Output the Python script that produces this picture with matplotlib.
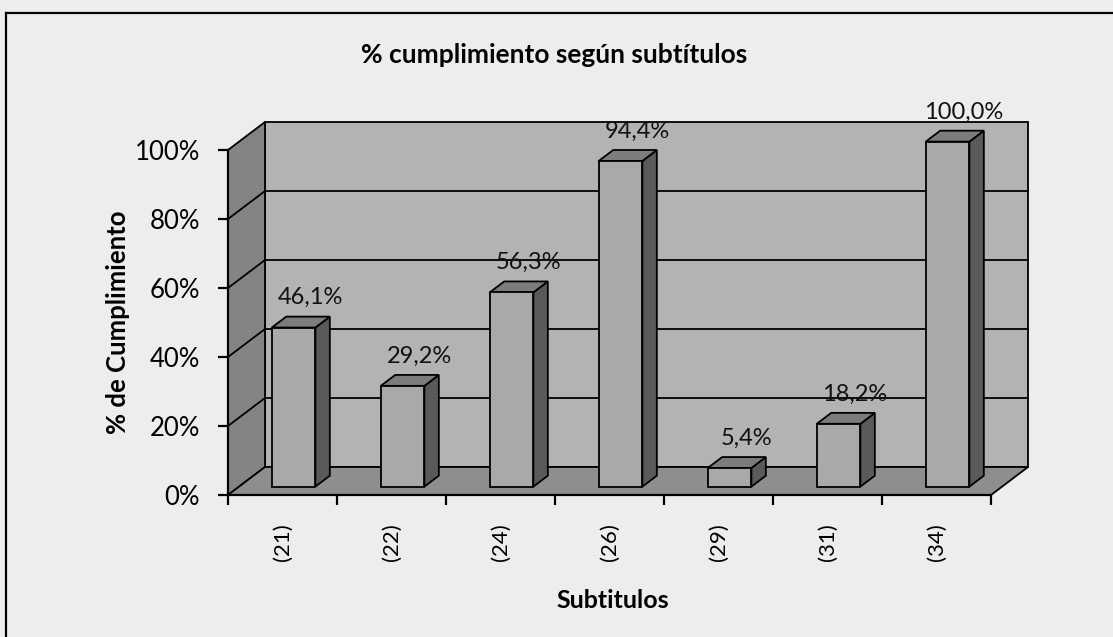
import matplotlib
matplotlib.use("Agg")
import matplotlib.pyplot as plt
from matplotlib.patches import Polygon
from matplotlib.ticker import PercentFormatter
from matplotlib.lines import Line2D

# ---- data ----
categories = ["(21)", "(22)", "(24)", "(26)", "(29)", "(31)", "(34)"]
values = [46.1, 29.2, 56.3, 94.4, 5.4, 18.2, 100.0]
value_labels = ["46,1%", "29,2%", "56,3%", "94,4%", "5,4%", "18,2%", "100,0%"]
y_ticks = [0, 20, 40, 60, 80, 100]

title = "% cumplimiento según subtítulos"
xlabel = "Subtitulos"
ylabel = "% de Cumplimiento"

# ---- style ----
W, H = 1113, 637
BG = "#eceeee"
C_BACK = "#b3b3b3"
C_SIDE = "#848484"
C_FLOOR = "#8e8e8e"
C_FRONT = "#a9a9a9"
C_BSIDE = "#5a5a5a"
C_BTOP = "#7c7c7c"
FONT = "Lato"

fig = plt.figure(figsize=(W / 100, H / 100), dpi=100, facecolor=BG)

# front plane of the 3D box in pixels
x0, x1 = 228, 991
yb, yt = 495, 150
ax = fig.add_axes([x0 / W, 1 - yb / H, (x1 - x0) / W, (yb - yt) / H])
ax.set_facecolor("none")
n = len(categories)
ax.set_xlim(-0.5, n - 0.5)
ax.set_ylim(0, 100)

# depth offsets (in data units, for full depth)
px_per_cat = (x1 - x0) / n
px_per_val = (yb - yt) / 100
DX = 37 / px_per_cat
DY = 28 / px_per_val


def P(x, y, d):
    return (x + d * DX, y + d * DY)


xl, xr = -0.5, n - 0.5
lw = 1.3

# back wall
ax.add_patch(Polygon([P(xl, 0, 1), P(xr, 0, 1), P(xr, 100, 1), P(xl, 100, 1)],
                     closed=True, fc=C_BACK, ec="black", lw=lw, zorder=1, clip_on=False))
# side wall
ax.add_patch(Polygon([P(xl, 0, 0), P(xl, 100, 0), P(xl, 100, 1), P(xl, 0, 1)],
                     closed=True, fc=C_SIDE, ec="black", lw=lw, zorder=1, clip_on=False))
# floor
ax.add_patch(Polygon([P(xl, 0, 0), P(xr, 0, 0), P(xr, 0, 1), P(xl, 0, 1)],
                     closed=True, fc=C_FLOOR, ec="black", lw=lw, zorder=1.5, clip_on=False))
# gridlines
for t in y_ticks[1:-1]:
    a, b, c = P(xl, t, 0), P(xl, t, 1), P(xr, t, 1)
    ax.add_line(Line2D([a[0], b[0], c[0]], [a[1], b[1], c[1]], color="black",
                       lw=lw, zorder=1.2, clip_on=False))

# bars
bw = 0.4
d0, d1 = 0.3, 0.69
for i, v in enumerate(values):
    l, r = i - bw / 2, i + bw / 2
    front = [P(l, 0, d0), P(r, 0, d0), P(r, v, d0), P(l, v, d0)]
    side = [P(r, 0, d0), P(r, 0, d1), P(r, v, d1), P(r, v, d0)]
    top = [P(l, v, d0), P(r, v, d0), P(r, v, d1), P(l, v, d1)]
    z = 3 + i * 0.01
    ax.add_patch(Polygon(side, closed=True, fc=C_BSIDE, ec="black", lw=lw, zorder=z, clip_on=False))
    ax.add_patch(Polygon(top, closed=True, fc=C_BTOP, ec="black", lw=lw, zorder=z, clip_on=False))
    ax.add_patch(Polygon(front, closed=True, fc=C_FRONT, ec="black", lw=lw, zorder=z, clip_on=False))
    lx, _ = P(i, v, (d0 + d1) / 2 + 0.25)
    ax.annotate(value_labels[i], (lx, P(i, v, d1)[1]), xytext=(0, 6), textcoords="offset points",
                ha="center", va="bottom", fontsize=17, family=FONT, color="#111111",
                zorder=10, annotation_clip=False)

# axes
for s in ["top", "right"]:
    ax.spines[s].set_visible(False)
for s in ["left", "bottom"]:
    ax.spines[s].set_color("black")
    ax.spines[s].set_linewidth(1.6)
    ax.spines[s].set_zorder(2)

ax.set_yticks(y_ticks)
ax.yaxis.set_major_formatter(PercentFormatter(decimals=0))
ax.tick_params(axis="y", direction="out", length=7.2, width=1.6, pad=13,
               labelsize=18.5, colors="black")
for lab in ax.get_yticklabels():
    lab.set_family(FONT)

ax.set_xticks([k - 0.5 for k in range(n + 1)])
ax.set_xticklabels([])
ax.set_xticks(list(range(n)), minor=True)
ax.set_xticklabels(categories, minor=True, rotation=90, fontsize=16, family=FONT)
ax.tick_params(axis="x", which="major", direction="out", length=7.2, width=1.6)
ax.tick_params(axis="x", which="minor", length=0, pad=20)

# titles
fig.text(554 / W, 1 - 55 / H, title, ha="center", va="center", fontsize=19,
         fontweight="bold", family=FONT)
fig.text(613 / W, 1 - 600 / H, xlabel, ha="center", va="center", fontsize=18,
         fontweight="bold", family=FONT)
fig.text(118 / W, 1 - 322 / H, ylabel, ha="center", va="center", fontsize=18.5,
         fontweight="bold", family=FONT, rotation=90)

# outer chart border (left and top visible)
fig.add_artist(Line2D([6 / W, 6 / W], [0, 1 - 13 / H], color="black", lw=1.6, transform=fig.transFigure))
fig.add_artist(Line2D([6 / W, 1], [1 - 13 / H, 1 - 13 / H], color="black", lw=1.6, transform=fig.transFigure))

fig.savefig("out.png", dpi=100, facecolor=BG)
